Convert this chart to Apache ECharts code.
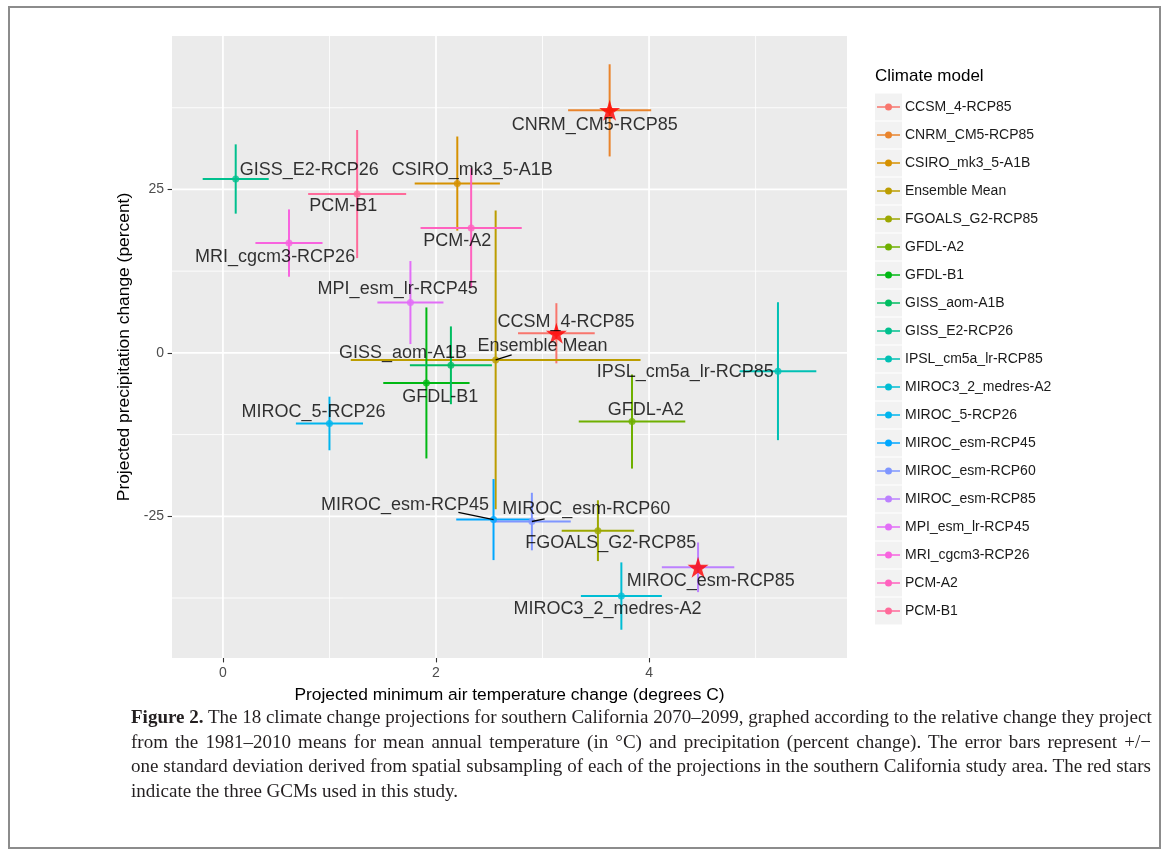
<!DOCTYPE html>
<html>
<head>
<meta charset="utf-8">
<script src="https://cdn.jsdelivr.net/npm/echarts@6/dist/echarts.min.js"></script>
<style>
html,body{margin:0;padding:0;background:#fff;}
#chart{position:absolute;left:0;top:0;width:1168px;height:710px;}
#frame{position:absolute;left:8px;top:6px;width:1153px;height:843px;border:2px solid #8c8c8c;box-sizing:border-box;pointer-events:none;}
#caption{position:absolute;left:131px;top:705px;width:1020px;font-family:"Liberation Serif",serif;font-size:19px;line-height:24.5px;color:#231f20;}
#caption .l{display:block;white-space:nowrap;text-align:justify;text-align-last:justify;}
#caption .last{display:block;white-space:nowrap;text-align:left;}
</style>
</head>
<body>
<div id="chart"></div>
<div id="frame"></div>
<div id="caption">
<span class="l"><b>Figure 2.</b> The 18 climate change projections for southern California 2070–2099, graphed according to the relative change they project</span>
<span class="l">from the 1981–2010 means for mean annual temperature (in °C) and precipitation (percent change). The error bars represent +/−</span>
<span class="l">one standard deviation derived from spatial subsampling of each of the projections in the southern California study area. The red stars</span>
<span class="last">indicate the three GCMs used in this study.</span>
</div>
<script>
// ---- data ----
const models = ['CCSM_4-RCP85','CNRM_CM5-RCP85','CSIRO_mk3_5-A1B','Ensemble Mean','FGOALS_G2-RCP85','GFDL-A2','GFDL-B1','GISS_aom-A1B','GISS_E2-RCP26','IPSL_cm5a_lr-RCP85','MIROC3_2_medres-A2','MIROC_5-RCP26','MIROC_esm-RCP45','MIROC_esm-RCP60','MIROC_esm-RCP85','MPI_esm_lr-RCP45','MRI_cgcm3-RCP26','PCM-A2','PCM-B1'];
const tempChange   = [3.13, 3.63, 2.20, 2.56, 3.52, 3.84, 1.91, 2.14, 0.12, 5.21, 3.74, 1.00, 2.54, 2.90, 4.46, 1.76, 0.62, 2.33, 1.26];
const tempSD       = [0.36, 0.39, 0.40, 1.36, 0.34, 0.50, 0.405,0.385,0.31, 0.36, 0.38, 0.315,0.35, 0.365,0.34, 0.31, 0.315,0.475,0.46];
const precipChange = [3.0, 37.1, 25.9, -1.07, -27.2, -10.5, -4.6, -1.9, 26.6, -2.8, -37.2, -10.8, -25.5, -25.8, -32.8, 7.7, 16.8, 19.1, 24.3];
const precipSD     = [4.6, 7.05, 7.2, 22.85, 4.65, 7.2, 11.55, 5.95, 5.3, 10.55, 5.15, 4.1, 6.2, 4.4, 3.8, 6.35, 5.15, 9.15, 9.8];
const starModels = ['CCSM_4-RCP85','CNRM_CM5-RCP85','MIROC_esm-RCP85'];
// label anchor positions (data units)
const labelX = [3.22, 3.49, 2.34, 3.00, 3.64, 3.97, 2.04, 1.69, 0.81, 4.34, 3.61, 0.85, 1.71, 3.41, 4.58, 1.64, 0.49, 2.20, 1.13];
const labelY = [4.7, 34.8, 27.9, 1.1, -29.1, -8.7, -6.7, 0.0, 27.9, -3.0, -39.2, -9.0, -23.2, -23.9, -34.9, 9.8, 14.6, 17.1, 22.4];
// leader segments: model, end x, end y
const segModels = ['Ensemble Mean','MIROC_esm-RCP45','MIROC_esm-RCP60'];
const segEndX = [2.71, 2.21, 3.02];
const segEndY = [-0.3, -24.4, -25.4];
// ticks
const xMajor = [0, 2, 4];
const xMinor = [1, 3, 5];
const yMajor = [-25, 0, 25];
const yMinor = [-37.5, -12.5, 12.5, 37.5];

// ---- styling helpers ----
function hcl(h, c, l) {
  const WX = 95.047, WY = 100.0, WZ = 108.883;
  const hr = h * Math.PI / 180;
  const U = c * Math.cos(hr), V = c * Math.sin(hr);
  const Y = WY * Math.pow((l + 16) / 116, 3);
  const den = WX + 15 * WY + 3 * WZ;
  const u0 = 4 * WX / den, v0 = 9 * WY / den;
  const u = U / (13 * l) + u0, v = V / (13 * l) + v0;
  const X = 9 * Y * u / (4 * v);
  const Z = -X / 3 - 5 * Y + 3 * Y / v;
  const g = x => x > 0.0031308 ? 1.055 * Math.pow(x, 1 / 2.4) - 0.055 : 12.92 * x;
  const to = x => Math.round(255 * Math.min(1, Math.max(0, x)));
  const R = g((3.240479 * X - 1.537150 * Y - 0.498535 * Z) / 100);
  const G = g((-0.969256 * X + 1.875992 * Y + 0.041556 * Z) / 100);
  const B = g((0.055648 * X - 0.204043 * Y + 1.057311 * Z) / 100);
  return 'rgb(' + to(R) + ',' + to(G) + ',' + to(B) + ')';
}
const colors = models.map((m, i) => hcl(15 + i * 360 / models.length, 100, 65));

// ggplot-like 5% expansion of data range
const xlo = Math.min(...tempChange.map((v, i) => v - tempSD[i]));
const xhi = Math.max(...tempChange.map((v, i) => v + tempSD[i]));
const ylo = Math.min(...precipChange.map((v, i) => v - precipSD[i]));
const yhi = Math.max(...precipChange.map((v, i) => v + precipSD[i]));
const xMin = xlo - 0.05 * (xhi - xlo), xMax = xhi + 0.05 * (xhi - xlo);
const yMin = ylo - 0.05 * (yhi - ylo), yMax = yhi + 0.05 * (yhi - ylo);

const FONT = 'Liberation Sans';
const starPath = 'path://M50,0 L61.23,34.55 L97.55,34.55 L68.17,55.9 L79.39,90.45 L50,69.1 L20.61,90.45 L31.83,55.9 L2.45,34.55 L38.77,34.55 Z';
const keyPath = 'path://M0,0 L0.01,0 L0.01,0.01 Z M22.99,26.99 L23,26.99 L23,27 Z M0,12.8 L23,12.8 L23,14.2 L0,14.2 Z M15,13.5 A3.5,3.5 0 1,1 8,13.5 A3.5,3.5 0 1,1 15,13.5 Z';

const series = [];
// gridlines
const gridData = [];
xMinor.forEach(v => gridData.push([v, 1, 0]));
yMinor.forEach(v => gridData.push([v, 0, 0]));
xMajor.forEach(v => gridData.push([v, 1, 1]));
yMajor.forEach(v => gridData.push([v, 0, 1]));
series.push({
  type: 'custom', name: '_grid', z: 1, silent: true,
  data: gridData,
  encode: {x: 0},
  renderItem: function (params, api) {
    const cs = params.coordSys;
    const v = api.value(0), isX = api.value(1), major = api.value(2);
    let shape;
    if (isX) { const p = api.coord([v, yMin]); shape = {x1: p[0], y1: cs.y, x2: p[0], y2: cs.y + cs.height}; }
    else { const p = api.coord([xMin, v]); shape = {x1: cs.x, y1: p[1], x2: cs.x + cs.width, y2: p[1]}; }
    return {type: 'line', shape: shape, style: {stroke: '#ffffff', lineWidth: major ? 1.7 : 0.85}};
  }
});
// error bars per model
models.forEach((m, i) => {
  series.push({
    type: 'custom', name: m, z: 2, silent: true,
    itemStyle: {color: colors[i]},
    data: [[tempChange[i], tempSD[i], precipChange[i], precipSD[i]]],
    encode: {x: 0, y: 2},
    renderItem: function (params, api) {
      const x = api.value(0), xs = api.value(1), y = api.value(2), ys = api.value(3);
      const a = api.coord([x - xs, y]), b = api.coord([x + xs, y]);
      const c = api.coord([x, y - ys]), d = api.coord([x, y + ys]);
      const col = api.visual('color');
      return {type: 'group', children: [
        {type: 'line', shape: {x1: a[0], y1: a[1], x2: b[0], y2: b[1]}, style: {stroke: col, lineWidth: 2}},
        {type: 'line', shape: {x1: c[0], y1: c[1], x2: d[0], y2: d[1]}, style: {stroke: col, lineWidth: 2}}
      ]};
    }
  });
});
// points
series.push({
  type: 'scatter', name: '_points', z: 3, silent: true, symbol: 'circle', symbolSize: 7,
  data: models.map((m, i) => ({value: [tempChange[i], precipChange[i]], itemStyle: {color: colors[i]}}))
});
// leader segments
series.push({
  type: 'custom', name: '_seg', z: 4, silent: true,
  data: segModels.map((m, k) => { const i = models.indexOf(m); return [tempChange[i], precipChange[i], segEndX[k], segEndY[k]]; }),
  encode: {x: 0, y: 1},
  renderItem: function (params, api) {
    const p = api.coord([api.value(0), api.value(1)]), q = api.coord([api.value(2), api.value(3)]);
    return {type: 'line', shape: {x1: p[0], y1: p[1], x2: q[0], y2: q[1]}, style: {stroke: '#000', lineWidth: 1.4}};
  }
});
// stars
series.push({
  type: 'scatter', name: '_stars', z: 5, silent: true, symbol: starPath, symbolSize: 21,
  itemStyle: {color: '#ff0000'},
  data: starModels.map(m => { const i = models.indexOf(m); return [tempChange[i], precipChange[i]]; })
});
// labels
series.push({
  type: 'scatter', name: '_labels', z: 6, silent: true, symbolSize: 0,
  data: models.map((m, i) => [labelX[i], labelY[i], m]),
  label: {show: true, position: 'inside', formatter: p => p.value[2], color: '#000', fontSize: 18, fontFamily: FONT}
});

const chart = echarts.init(document.getElementById('chart'), null, {renderer: 'canvas'});
chart.setOption({
  animation: false,
  backgroundColor: 'transparent',
  title: {text: 'Climate model', left: 875, top: 68, padding: 0, textStyle: {fontSize: 17, fontWeight: 'normal', color: '#000', fontFamily: FONT}},
  grid: {left: 172, top: 36, width: 675, height: 622, show: true, backgroundColor: '#ebebeb', borderWidth: 0},
  xAxis: {
    type: 'value', min: xMin, max: xMax,
    name: 'Projected minimum air temperature change (degrees C)', nameLocation: 'middle', nameGap: 29,
    nameTextStyle: {fontSize: 17.4, color: '#000', fontFamily: FONT},
    axisLine: {show: false, onZero: false}, splitLine: {show: false},
    axisTick: {show: true, customValues: xMajor, length: 4.4, lineStyle: {color: '#333', width: 1.1}},
    axisLabel: {customValues: xMajor, color: '#4d4d4d', fontSize: 14, margin: 8, fontFamily: FONT}
  },
  yAxis: {
    type: 'value', min: yMin, max: yMax,
    name: 'Projected precipitation change (percent)', nameLocation: 'middle', nameGap: 36,
    nameTextStyle: {fontSize: 17.4, color: '#000', fontFamily: FONT},
    axisLine: {show: false, onZero: false}, splitLine: {show: false},
    axisTick: {show: true, customValues: yMajor, length: 4.4, lineStyle: {color: '#333', width: 1.1}},
    axisLabel: {customValues: yMajor, color: '#4d4d4d', fontSize: 14, margin: 8, fontFamily: FONT}
  },
  legend: [
    {
      data: models, orient: 'vertical', left: 875, top: 93.5, padding: 0, itemGap: 1,
      itemWidth: 27, itemHeight: 27, icon: 'rect', selectedMode: false,
      itemStyle: {color: '#f2f2f2', borderWidth: 0},
      formatter: () => '', textStyle: {fontSize: 14}
    },
    {
      data: models, orient: 'vertical', left: 877, top: 93.5, padding: 0, itemGap: 1,
      itemWidth: 23, itemHeight: 27, icon: keyPath, symbolKeepAspect: false, selectedMode: false,
      textStyle: {fontSize: 14, color: '#1a1a1a', fontFamily: FONT}
    }
  ],
  series: series
});
</script>
</body>
</html>
